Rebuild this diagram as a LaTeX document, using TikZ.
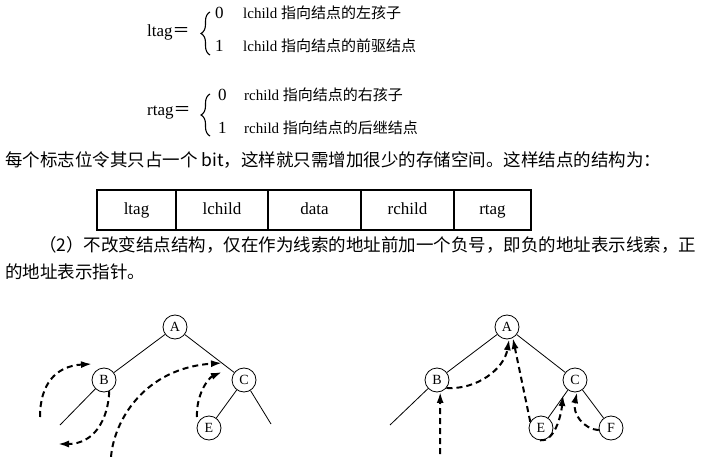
\documentclass[tikz,border=0pt]{standalone}
\usepackage{fontspec}
\setmainfont{Liberation Serif}
\newfontfamily\cjk{Noto Sans CJK SC}
\usetikzlibrary{arrows.meta, positioning, calc, decorations.pathreplacing}
\tikzset{
    treeNode/.style={circle, draw=black, line width=0.8pt, fill=white, inner sep=0pt, minimum size=24pt, font=\fontsize{14}{14}\selectfont},
    treeEdge/.style={line width=0.8pt},
    threadLine/.style={-{Latex[length=11pt, width=7pt]}, line width=2pt, dash pattern=on 6pt off 4pt},
    cellBox/.style={rectangle, draw=black, line width=1.2pt, outer sep=0pt, minimum height=40pt, text height=12pt, text depth=2pt, font=\fontsize{17}{17}\selectfont},
    braceLine/.style={decorate, decoration={brace, amplitude=9pt}, line width=1.1pt},
    tagText/.style={anchor=west, inner sep=0pt, font=\fontsize{15}{15}\selectfont},
    tagHead/.style={anchor=west, inner sep=0pt, font=\fontsize{17}{17}\selectfont},
    bodyText/.style={anchor=west, inner sep=0pt, font=\fontsize{17.5}{17.5}\selectfont}
}

\begin{document}
\begin{tikzpicture}[x=1pt, y=-1pt]

        \useasboundingbox (0,0) rectangle (707,457);

        % --- Tag definitions ---
        \node[tagHead] (ltagLbl) at (147,32) {ltag\cjk{＝}};
        \draw[braceLine] (210,55) -- (210,12);
        \node[tagHead] (ltagZero) at (215,13) {0};
        \node[tagHead] (ltagOne) at (215,46) {1};
        \node[tagText] (ltagZeroTxt) at (243,13) {lchild \cjk{指向结点的左孩子}};
        \node[tagText] (ltagOneTxt) at (243,46) {lchild \cjk{指向结点的前驱结点}};

        \node[tagHead] (rtagLbl) at (147,113) {rtag\cjk{＝}};
        \draw[braceLine] (210,136) -- (210,94);
        \node[tagHead] (rtagZero) at (218,95) {0};
        \node[tagHead] (rtagOne) at (218,128) {1};
        \node[tagText] (rtagZeroTxt) at (244,95) {rchild \cjk{指向结点的右孩子}};
        \node[tagText] (rtagOneTxt) at (244,128) {rchild \cjk{指向结点的后继结点}};

        % --- Body text ---
        \node[bodyText] (lineOne) at (5,160) {\cjk{每个标志位令其只占一个} bit\cjk{，这样就只需增加很少的存储空间。这样结点的结构为：}};

        % --- Node structure ---
        \node[cellBox, minimum width=79pt, anchor=north west] (cLtag) at (97,190) {ltag};
        \node[cellBox, minimum width=92pt, right=0pt of cLtag] (cLchild) {lchild};
        \node[cellBox, minimum width=93pt, right=0pt of cLchild] (cData) {data};
        \node[cellBox, minimum width=93pt, right=0pt of cData] (cRchild) {rchild};
        \node[cellBox, minimum width=77pt, right=0pt of cRchild] (cRtag) {rtag};

        \node[bodyText] (lineTwo) at (39,245) {\cjk{（}2\cjk{）不改变结点结构，仅在作为线索的地址前加一个负号，即负的地址表示线索，正}};
        \node[bodyText] (lineThree) at (5,272) {\cjk{的地址表示指针。}};

        % --- Left tree ---
        \node[treeNode] (lA) at (175,327) {A};
        \node[treeNode] (lB) at (104,380) {B};
        \node[treeNode] (lC) at (244,380) {C};
        \node[treeNode] (lE) at (209,428) {E};
        \coordinate (lBleft) at (60,425);
        \coordinate (lCright) at (271,424);

        \draw[treeEdge] (lA) -- (lB);
        \draw[treeEdge] (lA) -- (lC);
        \draw[treeEdge] (lB) -- (lBleft);
        \draw[treeEdge] (lC) -- (lE);
        \draw[treeEdge] (lC) -- (lCright);

        % threads
        \coordinate (lT1s) at (40,417);
        \coordinate (lT1e) at (92,364);
        \coordinate (lT2e) at (58,444);
        \coordinate (lT3s) at (111,457);
        \coordinate (lT3e) at (222,363);
        \coordinate (lT4s) at (197,417);
        \coordinate (lT4e) at (222,372);
        \draw[threadLine] (lT1s) .. controls +(0,-32) and +(-37,2) .. (lT1e);
        \draw[threadLine] (lB.-65) .. controls +(-1,27) and +(37,0) .. (lT2e);
        \draw[threadLine] (lT3s) .. controls +(3,-37) and +(-77,5) .. (lT3e);
        \draw[threadLine] (lT4s) .. controls +(-1,-22) and +(-14,6) .. (lT4e);

        % --- Right tree ---
        \node[treeNode] (rA) at (507,327) {A};
        \node[treeNode] (rB) at (437,380) {B};
        \node[treeNode] (rC) at (575,380) {C};
        \node[treeNode] (rE) at (541,428) {E};
        \node[treeNode] (rF) at (611,428) {F};
        \coordinate (rBleft) at (390,425);

        \draw[treeEdge] (rA) -- (rB);
        \draw[treeEdge] (rA) -- (rC);
        \draw[treeEdge] (rB) -- (rBleft);
        \draw[treeEdge] (rC) -- (rE);
        \draw[treeEdge] (rC) -- (rF);

        % threads
        \coordinate (rT1s) at (440,454);
        \coordinate (rT4e) at (563,395);
        \draw[threadLine] (rT1s) -- (rB.-75);
        \draw[threadLine] (rB.-40) .. controls +(30,2) and +(-5,30) .. (rA.-80);
        \draw[threadLine] (rE.150) -- (rA.-62);
        \draw[threadLine] (rE.-95) .. controls +(14,2) and +(-2,22) .. (rT4e);
        \draw[threadLine] (rF.190) .. controls +(-15,-1) and +(-5,22) .. (rC.-80);

\end{tikzpicture}
\end{document}
